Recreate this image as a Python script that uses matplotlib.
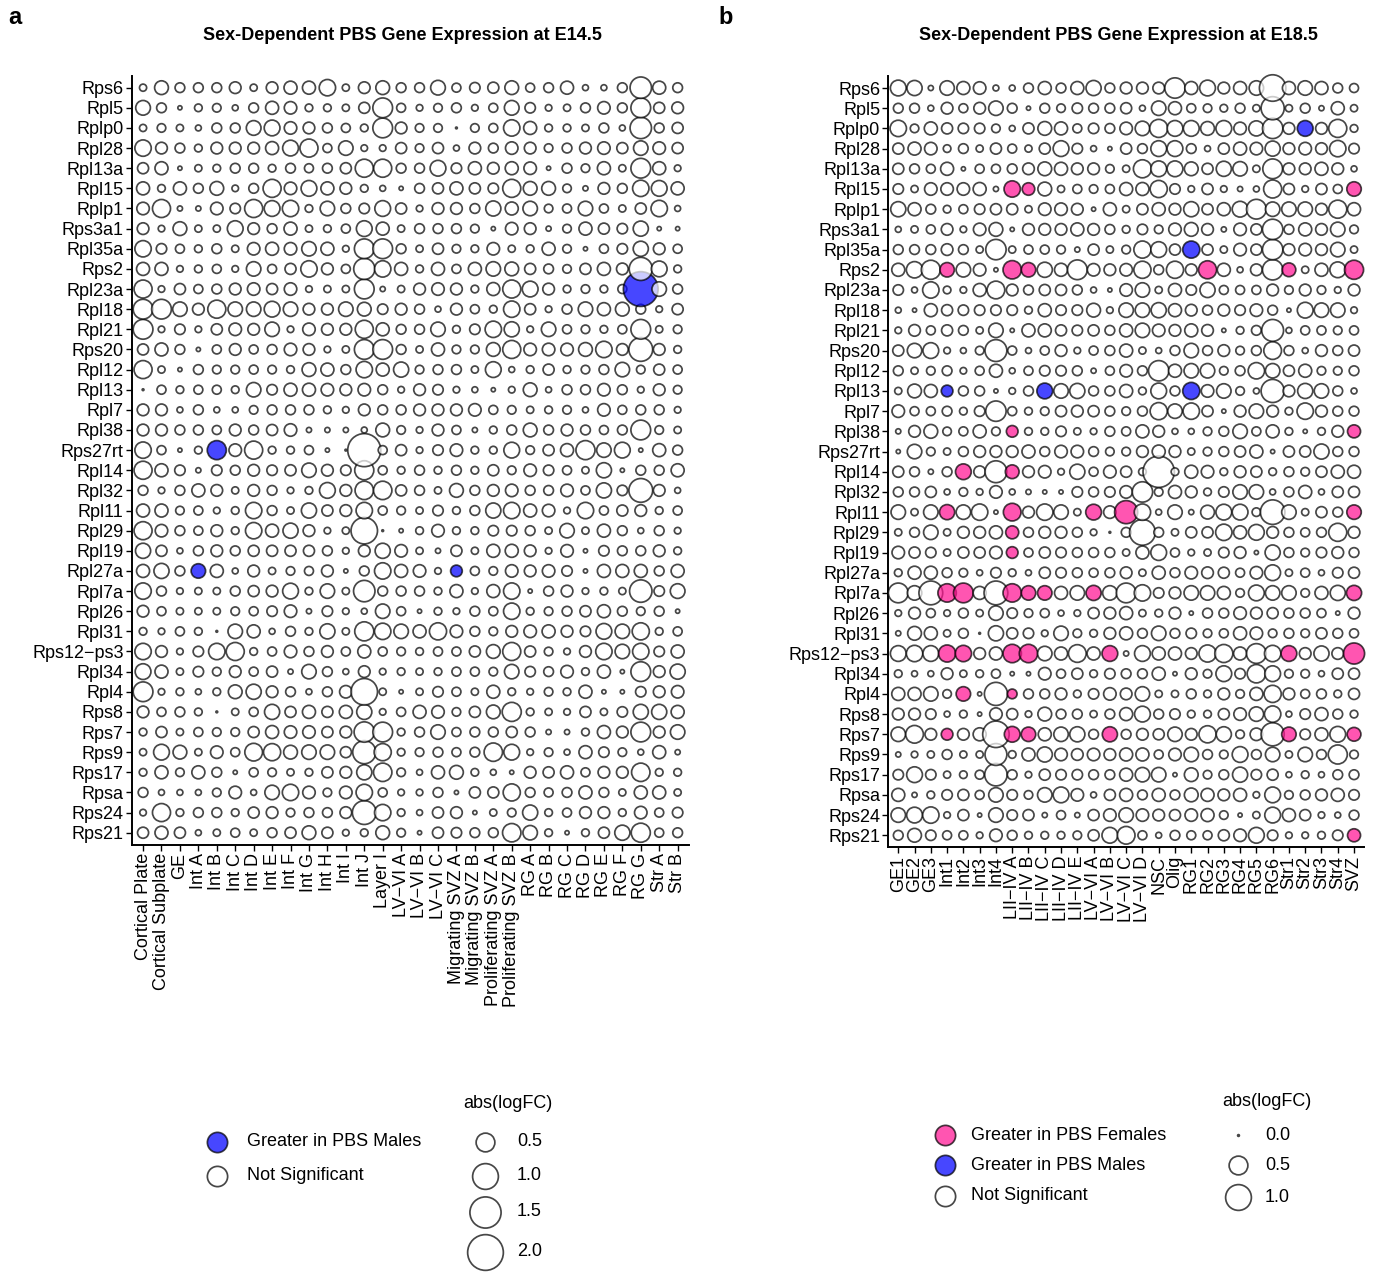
import numpy as np
import matplotlib
matplotlib.use("Agg")
import matplotlib.pyplot as plt

plt.rcParams['font.family'] = ['Liberation Sans', 'DejaVu Sans']

genes = ["Rps6", "Rpl5", "Rplp0", "Rpl28", "Rpl13a", "Rpl15", "Rplp1", "Rps3a1",
         "Rpl35a", "Rps2", "Rpl23a", "Rpl18", "Rpl21", "Rps20", "Rpl12", "Rpl13",
         "Rpl7", "Rpl38", "Rps27rt", "Rpl14", "Rpl32", "Rpl11", "Rpl29", "Rpl19",
         "Rpl27a", "Rpl7a", "Rpl26", "Rpl31", "Rps12\u2212ps3", "Rpl34", "Rpl4",
         "Rps8", "Rps7", "Rps9", "Rps17", "Rpsa", "Rps24", "Rps21"]

cells_e14 = ["Cortical Plate", "Cortical Subplate", "GE", "Int A", "Int B", "Int C",
             "Int D", "Int E", "Int F", "Int G", "Int H", "Int I", "Int J", "Layer I",
             "LV\u2212VI A", "LV\u2212VI B", "LV\u2212VI C", "Migrating SVZ A",
             "Migrating SVZ B", "Proliferating SVZ A", "Proliferating SVZ B",
             "RG A", "RG B", "RG C", "RG D", "RG E", "RG F", "RG G", "Str A", "Str B"]

cells_e18 = ["GE1", "GE2", "GE3", "Int1", "Int2", "Int3", "Int4", "LII\u2212IV A",
             "LII\u2212IV B", "LII\u2212IV C", "LII\u2212IV D", "LII\u2212IV E",
             "LV\u2212VI A", "LV\u2212VI B", "LV\u2212VI C", "LV\u2212VI D", "NSC", "Olig",
             "RG1", "RG2", "RG3", "RG4", "RG5", "RG6", "Str1", "Str2", "Str3", "Str4", "SVZ"]

# abs(logFC), one row per gene (same order as genes), one value per cell type
logfc_e14 = [
 [0.05,0.25,0.11,0.11,0.11,0.17,0.05,0.17,0.22,0.22,0.37,0.05,0.17,0.25,0.11,0.11,0.29,0.09,0.13,0.15,0.25,0.09,0.11,0.22,0.03,0.03,0.11,0.67,0.22,0.11],
 [0.29,0.11,0.01,0.06,0.08,0.03,0.11,0.22,0.2,0.06,0.06,0.05,0.15,0.56,0.09,0.04,0.08,0.11,0.04,0.09,0.29,0.13,0.04,0.05,0.11,0.2,0.11,0.56,0.15,0.17],
 [0.05,0.08,0.05,0.03,0.11,0.11,0.29,0.34,0.2,0.17,0.11,0.09,0.06,0.56,0.17,0.08,0.08,0.0,0.08,0.09,0.37,0.22,0.06,0.06,0.05,0.11,0.03,0.67,0.11,0.15],
 [0.37,0.17,0.11,0.06,0.17,0.17,0.17,0.22,0.34,0.46,0.09,0.28,0.04,0.04,0.15,0.08,0.15,0.03,0.17,0.11,0.2,0.17,0.08,0.11,0.17,0.2,0.15,0.28,0.2,0.15],
 [0.15,0.22,0.01,0.05,0.06,0.11,0.11,0.06,0.11,0.09,0.11,0.15,0.46,0.46,0.11,0.11,0.34,0.13,0.22,0.17,0.22,0.2,0.01,0.11,0.08,0.22,0.05,0.56,0.22,0.04],
 [0.22,0.06,0.22,0.11,0.25,0.04,0.11,0.46,0.2,0.34,0.22,0.17,0.06,0.03,0.01,0.11,0.15,0.22,0.15,0.13,0.46,0.25,0.25,0.08,0.02,0.17,0.11,0.37,0.34,0.22],
 [0.2,0.46,0.02,0.02,0.2,0.13,0.46,0.34,0.37,0.06,0.28,0.11,0.13,0.34,0.15,0.04,0.17,0.17,0.11,0.31,0.22,0.28,0.08,0.09,0.28,0.09,0.05,0.15,0.37,0.03],
 [0.17,0.04,0.25,0.05,0.05,0.34,0.17,0.11,0.22,0.05,0.06,0.09,0.34,0.22,0.05,0.11,0.11,0.11,0.08,0.01,0.2,0.17,0.02,0.08,0.22,0.15,0.13,0.31,0.01,0.01],
 [0.37,0.13,0.09,0.06,0.11,0.05,0.2,0.22,0.2,0.28,0.22,0.04,0.56,0.56,0.11,0.05,0.15,0.08,0.06,0.2,0.05,0.06,0.22,0.08,0.01,0.09,0.13,0.31,0.17,0.09],
 [0.22,0.22,0.04,0.06,0.09,0.04,0.28,0.09,0.15,0.37,0.17,0.09,0.65,0.37,0.22,0.06,0.22,0.09,0.22,0.28,0.25,0.15,0.11,0.08,0.15,0.22,0.17,0.79,0.34,0.06],
 [0.46,0.04,0.15,0.09,0.11,0.17,0.2,0.15,0.2,0.04,0.05,0.05,0.56,0.02,0.05,0.17,0.2,0.17,0.06,0.22,0.46,0.34,0.17,0.06,0.08,0.06,0.09,1.89,0.28,0.11],
 [0.56,0.56,0.28,0.17,0.46,0.28,0.28,0.34,0.28,0.17,0.17,0.28,0.25,0.13,0.17,0.11,0.03,0.17,0.09,0.06,0.37,0.15,0.04,0.11,0.28,0.22,0.25,0.11,0.04,0.15],
 [0.56,0.04,0.13,0.04,0.15,0.2,0.17,0.28,0.04,0.2,0.17,0.17,0.46,0.22,0.11,0.11,0.28,0.06,0.13,0.37,0.31,0.04,0.28,0.09,0.08,0.06,0.09,0.56,0.05,0.08],
 [0.15,0.22,0.11,0.01,0.09,0.17,0.09,0.11,0.2,0.17,0.04,0.05,0.56,0.56,0.11,0.05,0.22,0.08,0.08,0.25,0.46,0.2,0.2,0.2,0.25,0.37,0.17,0.84,0.17,0.06],
 [0.46,0.05,0.01,0.11,0.08,0.08,0.09,0.08,0.06,0.25,0.22,0.11,0.37,0.22,0.31,0.08,0.11,0.11,0.05,0.34,0.03,0.06,0.15,0.06,0.08,0.11,0.28,0.08,0.15,0.09],
 [0.0,0.09,0.06,0.09,0.09,0.06,0.28,0.13,0.22,0.22,0.2,0.17,0.2,0.11,0.04,0.17,0.13,0.04,0.03,0.01,0.04,0.25,0.03,0.11,0.11,0.2,0.11,0.04,0.17,0.08],
 [0.17,0.17,0.03,0.11,0.03,0.03,0.08,0.11,0.11,0.11,0.06,0.04,0.17,0.11,0.11,0.17,0.17,0.17,0.2,0.09,0.08,0.05,0.06,0.08,0.03,0.2,0.09,0.11,0.11,0.04],
 [0.17,0.17,0.11,0.11,0.09,0.17,0.11,0.15,0.2,0.02,0.02,0.02,0.03,0.25,0.08,0.04,0.17,0.09,0.02,0.06,0.11,0.25,0.11,0.17,0.11,0.09,0.11,0.56,0.08,0.05],
 [0.37,0.09,0.01,0.06,0.52,0.2,0.46,0.06,0.06,0.09,0.01,0.0,1.7,0.09,0.15,0.04,0.13,0.2,0.06,0.06,0.34,0.08,0.15,0.22,0.52,0.28,0.34,0.01,0.22,0.11],
 [0.46,0.22,0.13,0.02,0.13,0.11,0.17,0.13,0.15,0.28,0.17,0.13,0.52,0.09,0.06,0.11,0.06,0.11,0.06,0.15,0.08,0.2,0.13,0.09,0.05,0.31,0.01,0.11,0.11,0.22],
 [0.11,0.04,0.11,0.22,0.17,0.05,0.17,0.11,0.04,0.06,0.34,0.17,0.48,0.48,0.15,0.11,0.05,0.25,0.11,0.17,0.2,0.11,0.11,0.2,0.09,0.31,0.13,0.84,0.17,0.03],
 [0.22,0.22,0.08,0.09,0.04,0.06,0.37,0.11,0.05,0.31,0.15,0.17,0.37,0.09,0.08,0.05,0.13,0.06,0.11,0.31,0.37,0.22,0.2,0.04,0.37,0.09,0.15,0.17,0.06,0.09],
 [0.46,0.2,0.11,0.09,0.17,0.06,0.37,0.22,0.31,0.17,0.04,0.05,1.06,0.0,0.01,0.06,0.2,0.06,0.06,0.13,0.13,0.11,0.05,0.28,0.05,0.22,0.11,0.03,0.11,0.04],
 [0.31,0.15,0.03,0.11,0.17,0.11,0.15,0.15,0.15,0.15,0.11,0.04,0.17,0.31,0.2,0.05,0.02,0.15,0.05,0.22,0.22,0.17,0.04,0.2,0.01,0.13,0.11,0.11,0.17,0.06],
 [0.22,0.31,0.11,0.28,0.22,0.03,0.17,0.05,0.08,0.09,0.17,0.01,0.11,0.37,0.22,0.2,0.04,0.17,0.09,0.08,0.2,0.17,0.2,0.13,0.01,0.22,0.22,0.22,0.11,0.22],
 [0.37,0.11,0.04,0.05,0.05,0.11,0.15,0.17,0.34,0.06,0.28,0.05,0.67,0.11,0.11,0.11,0.06,0.22,0.04,0.22,0.37,0.01,0.11,0.17,0.04,0.06,0.05,0.74,0.13,0.29],
 [0.17,0.09,0.05,0.05,0.05,0.08,0.09,0.13,0.2,0.02,0.13,0.04,0.03,0.28,0.09,0.01,0.06,0.04,0.11,0.09,0.37,0.06,0.08,0.11,0.15,0.22,0.11,0.08,0.11,0.01],
 [0.06,0.04,0.09,0.06,0.0,0.28,0.22,0.03,0.11,0.06,0.31,0.05,0.52,0.37,0.28,0.22,0.41,0.2,0.11,0.08,0.17,0.2,0.22,0.17,0.13,0.34,0.28,0.41,0.06,0.09],
 [0.37,0.17,0.04,0.13,0.37,0.46,0.06,0.09,0.2,0.11,0.17,0.09,0.22,0.09,0.08,0.06,0.09,0.09,0.15,0.25,0.46,0.15,0.08,0.04,0.17,0.37,0.28,0.37,0.13,0.22],
 [0.34,0.22,0.05,0.13,0.08,0.17,0.09,0.15,0.02,0.28,0.11,0.03,0.17,0.04,0.06,0.05,0.06,0.09,0.09,0.08,0.28,0.13,0.11,0.2,0.06,0.22,0.01,0.56,0.17,0.31],
 [0.56,0.04,0.06,0.03,0.06,0.25,0.31,0.17,0.11,0.03,0.11,0.2,1.06,0.05,0.01,0.05,0.13,0.09,0.05,0.22,0.06,0.04,0.08,0.06,0.22,0.01,0.01,0.13,0.17,0.2],
 [0.17,0.09,0.11,0.06,0.0,0.05,0.09,0.31,0.15,0.22,0.15,0.22,0.31,0.04,0.09,0.22,0.2,0.08,0.15,0.25,0.52,0.06,0.05,0.04,0.15,0.05,0.13,0.31,0.31,0.22],
 [0.06,0.15,0.05,0.09,0.08,0.08,0.15,0.22,0.2,0.2,0.15,0.17,0.6,0.56,0.06,0.11,0.28,0.09,0.11,0.11,0.15,0.11,0.02,0.02,0.06,0.22,0.17,0.56,0.17,0.28],
 [0.05,0.34,0.25,0.05,0.2,0.09,0.44,0.41,0.25,0.28,0.28,0.15,0.79,0.41,0.06,0.08,0.11,0.09,0.11,0.48,0.34,0.04,0.08,0.03,0.22,0.13,0.08,0.03,0.22,0.02],
 [0.06,0.22,0.08,0.22,0.11,0.01,0.09,0.08,0.05,0.06,0.15,0.17,0.31,0.48,0.08,0.03,0.22,0.25,0.06,0.03,0.01,0.17,0.15,0.22,0.09,0.17,0.17,0.48,0.06,0.06],
 [0.11,0.03,0.03,0.03,0.08,0.2,0.03,0.28,0.37,0.2,0.08,0.2,0.37,0.09,0.04,0.04,0.11,0.01,0.15,0.15,0.41,0.11,0.09,0.11,0.22,0.11,0.05,0.22,0.22,0.05],
 [0.04,0.46,0.06,0.11,0.11,0.06,0.15,0.17,0.08,0.11,0.11,0.17,0.84,0.37,0.06,0.03,0.15,0.17,0.01,0.05,0.08,0.31,0.06,0.09,0.17,0.17,0.06,0.2,0.09,0.13],
 [0.15,0.22,0.15,0.03,0.05,0.09,0.05,0.11,0.15,0.25,0.15,0.04,0.06,0.25,0.08,0.01,0.15,0.13,0.11,0.11,0.48,0.28,0.06,0.01,0.06,0.15,0.31,0.52,0.09,0.11],
]

logfc_e18 = [
 [0.34,0.31,0.02,0.28,0.22,0.2,0.03,0.03,0.11,0.22,0.11,0.22,0.31,0.11,0.17,0.17,0.17,0.6,0.22,0.34,0.17,0.22,0.28,1.06,0.22,0.28,0.22,0.11,0.09],
 [0.11,0.11,0.03,0.17,0.09,0.17,0.28,0.11,0.01,0.11,0.08,0.13,0.11,0.11,0.15,0.03,0.28,0.22,0.09,0.08,0.06,0.11,0.05,0.79,0.05,0.11,0.02,0.22,0.05],
 [0.37,0.08,0.22,0.15,0.13,0.13,0.08,0.03,0.15,0.25,0.22,0.09,0.13,0.11,0.2,0.28,0.46,0.34,0.34,0.25,0.34,0.2,0.31,0.6,0.17,0.34,0.17,0.46,0.06],
 [0.15,0.22,0.2,0.06,0.11,0.05,0.15,0.09,0.05,0.15,0.34,0.13,0.03,0.01,0.15,0.11,0.34,0.34,0.11,0.03,0.15,0.22,0.2,0.31,0.17,0.2,0.17,0.37,0.13],
 [0.15,0.11,0.09,0.22,0.01,0.09,0.09,0.11,0.17,0.25,0.22,0.17,0.17,0.08,0.05,0.46,0.34,0.34,0.25,0.15,0.31,0.28,0.05,0.56,0.17,0.17,0.22,0.17,0.03],
 [0.13,0.05,0.2,0.2,0.2,0.22,0.02,0.37,0.2,0.25,0.05,0.09,0.08,0.09,0.22,0.22,0.41,0.13,0.04,0.15,0.04,0.02,0.03,0.46,0.15,0.04,0.15,0.09,0.28],
 [0.31,0.22,0.11,0.06,0.09,0.13,0.15,0.15,0.05,0.2,0.2,0.17,0.01,0.22,0.05,0.15,0.22,0.17,0.31,0.15,0.22,0.34,0.56,0.28,0.28,0.28,0.17,0.46,0.22],
 [0.03,0.05,0.09,0.17,0.04,0.2,0.25,0.01,0.17,0.17,0.17,0.22,0.17,0.11,0.06,0.13,0.08,0.2,0.25,0.17,0.02,0.2,0.15,0.6,0.11,0.22,0.17,0.28,0.08],
 [0.11,0.11,0.11,0.17,0.11,0.05,0.6,0.05,0.09,0.09,0.08,0.02,0.15,0.05,0.08,0.41,0.34,0.15,0.41,0.15,0.05,0.2,0.15,0.6,0.17,0.2,0.17,0.28,0.05],
 [0.22,0.37,0.52,0.28,0.28,0.2,0.01,0.48,0.28,0.31,0.22,0.56,0.2,0.17,0.2,0.41,0.11,0.41,0.17,0.46,0.22,0.03,0.17,0.6,0.25,0.05,0.22,0.34,0.52],
 [0.13,0.03,0.37,0.06,0.04,0.22,0.44,0.17,0.11,0.15,0.15,0.11,0.03,0.01,0.2,0.28,0.05,0.22,0.13,0.31,0.09,0.09,0.09,0.17,0.08,0.17,0.08,0.04,0.17],
 [0.03,0.01,0.22,0.15,0.13,0.13,0.13,0.13,0.06,0.22,0.13,0.13,0.25,0.04,0.28,0.28,0.31,0.22,0.17,0.11,0.17,0.13,0.2,0.11,0.01,0.34,0.28,0.28,0.04],
 [0.04,0.17,0.09,0.15,0.11,0.05,0.28,0.01,0.22,0.22,0.15,0.13,0.15,0.11,0.22,0.28,0.2,0.17,0.22,0.17,0.01,0.06,0.11,0.7,0.03,0.09,0.09,0.08,0.09],
 [0.15,0.28,0.34,0.04,0.03,0.08,0.7,0.09,0.03,0.09,0.17,0.04,0.09,0.11,0.22,0.05,0.03,0.11,0.28,0.11,0.17,0.08,0.11,0.44,0.11,0.03,0.17,0.11,0.15],
 [0.11,0.05,0.08,0.11,0.04,0.09,0.22,0.03,0.09,0.13,0.13,0.11,0.02,0.09,0.2,0.11,0.6,0.22,0.28,0.28,0.08,0.11,0.37,0.28,0.15,0.22,0.08,0.08,0.11],
 [0.05,0.25,0.22,0.17,0.11,0.11,0.01,0.04,0.11,0.34,0.28,0.31,0.11,0.11,0.22,0.06,0.34,0.11,0.41,0.2,0.28,0.08,0.03,0.79,0.17,0.31,0.28,0.11,0.03],
 [0.2,0.09,0.09,0.11,0.06,0.13,0.6,0.09,0.06,0.08,0.15,0.17,0.15,0.11,0.08,0.11,0.41,0.28,0.37,0.15,0.01,0.17,0.28,0.17,0.06,0.37,0.17,0.11,0.11],
 [0.02,0.17,0.25,0.08,0.09,0.22,0.08,0.17,0.06,0.06,0.13,0.05,0.04,0.11,0.09,0.22,0.17,0.03,0.03,0.08,0.11,0.28,0.09,0.22,0.06,0.01,0.06,0.17,0.22],
 [0.01,0.28,0.08,0.05,0.11,0.17,0.17,0.17,0.22,0.11,0.2,0.2,0.11,0.08,0.08,0.17,0.22,0.17,0.05,0.08,0.11,0.15,0.22,0.01,0.15,0.15,0.31,0.11,0.11],
 [0.15,0.11,0.02,0.11,0.34,0.17,0.7,0.25,0.17,0.2,0.04,0.31,0.09,0.2,0.15,0.06,1.52,0.06,0.22,0.2,0.06,0.17,0.15,0.06,0.11,0.08,0.15,0.22,0.22],
 [0.11,0.11,0.15,0.03,0.08,0.04,0.2,0.03,0.02,0.01,0.01,0.13,0.11,0.13,0.2,0.6,0.08,0.22,0.17,0.06,0.13,0.28,0.28,0.03,0.11,0.22,0.03,0.15,0.15],
 [0.28,0.05,0.28,0.31,0.28,0.37,0.01,0.44,0.17,0.37,0.28,0.05,0.34,0.2,0.79,0.37,0.03,0.28,0.02,0.25,0.34,0.34,0.08,0.9,0.28,0.05,0.15,0.11,0.28],
 [0.05,0.11,0.28,0.05,0.17,0.17,0.22,0.22,0.11,0.17,0.17,0.11,0.04,0.0,0.11,1.0,0.11,0.05,0.15,0.15,0.37,0.22,0.34,0.17,0.11,0.09,0.11,0.46,0.17],
 [0.2,0.15,0.13,0.05,0.15,0.15,0.2,0.17,0.09,0.15,0.13,0.11,0.11,0.11,0.05,0.22,0.34,0.09,0.04,0.05,0.13,0.17,0.01,0.31,0.11,0.08,0.13,0.17,0.11],
 [0.06,0.22,0.22,0.11,0.08,0.03,0.13,0.06,0.03,0.15,0.13,0.11,0.09,0.11,0.17,0.05,0.22,0.11,0.2,0.17,0.15,0.09,0.2,0.34,0.05,0.09,0.03,0.13,0.15],
 [0.56,0.28,0.84,0.48,0.56,0.22,0.84,0.48,0.28,0.28,0.22,0.28,0.31,0.28,0.56,0.37,0.13,0.17,0.28,0.28,0.22,0.08,0.34,0.28,0.28,0.08,0.22,0.31,0.31],
 [0.04,0.17,0.09,0.04,0.11,0.05,0.28,0.13,0.08,0.09,0.03,0.04,0.15,0.17,0.22,0.05,0.06,0.17,0.01,0.11,0.11,0.2,0.17,0.15,0.11,0.11,0.09,0.01,0.17],
 [0.02,0.25,0.22,0.05,0.11,0.0,0.31,0.15,0.13,0.04,0.28,0.08,0.06,0.17,0.22,0.11,0.28,0.11,0.13,0.08,0.09,0.22,0.2,0.08,0.11,0.08,0.15,0.11,0.09],
 [0.34,0.37,0.34,0.41,0.37,0.17,0.22,0.48,0.48,0.28,0.22,0.44,0.22,0.34,0.02,0.34,0.22,0.22,0.17,0.41,0.46,0.22,0.56,0.37,0.34,0.17,0.31,0.17,0.65],
 [0.06,0.03,0.03,0.17,0.05,0.06,0.09,0.01,0.01,0.2,0.09,0.15,0.06,0.13,0.11,0.11,0.22,0.01,0.17,0.08,0.34,0.13,0.48,0.34,0.08,0.08,0.03,0.15,0.15],
 [0.22,0.22,0.28,0.08,0.28,0.01,0.79,0.11,0.11,0.11,0.17,0.06,0.13,0.2,0.17,0.28,0.05,0.05,0.11,0.06,0.17,0.08,0.22,0.41,0.17,0.09,0.11,0.06,0.15],
 [0.17,0.17,0.13,0.03,0.06,0.01,0.2,0.15,0.04,0.25,0.11,0.11,0.05,0.11,0.22,0.34,0.11,0.13,0.06,0.06,0.15,0.2,0.28,0.37,0.03,0.13,0.22,0.11,0.06],
 [0.28,0.44,0.17,0.17,0.17,0.22,1.06,0.34,0.28,0.22,0.28,0.31,0.11,0.31,0.11,0.17,0.15,0.28,0.17,0.41,0.31,0.08,0.2,0.79,0.28,0.13,0.22,0.34,0.25],
 [0.02,0.04,0.05,0.11,0.05,0.05,0.7,0.06,0.22,0.31,0.2,0.17,0.2,0.17,0.22,0.22,0.09,0.2,0.28,0.11,0.08,0.34,0.11,0.28,0.05,0.28,0.11,0.52,0.08],
 [0.13,0.34,0.13,0.05,0.06,0.09,0.74,0.11,0.04,0.15,0.13,0.13,0.11,0.11,0.22,0.28,0.28,0.01,0.25,0.08,0.11,0.31,0.13,0.15,0.03,0.06,0.03,0.11,0.11],
 [0.22,0.02,0.06,0.13,0.15,0.09,0.28,0.13,0.08,0.28,0.34,0.2,0.03,0.15,0.22,0.11,0.22,0.11,0.25,0.22,0.17,0.22,0.04,0.34,0.08,0.11,0.17,0.22,0.13],
 [0.28,0.34,0.37,0.04,0.15,0.01,0.28,0.13,0.15,0.02,0.09,0.02,0.15,0.2,0.28,0.2,0.17,0.15,0.2,0.22,0.08,0.01,0.05,0.34,0.22,0.15,0.04,0.03,0.11],
 [0.11,0.25,0.13,0.09,0.09,0.04,0.2,0.11,0.06,0.06,0.06,0.08,0.15,0.34,0.44,0.09,0.03,0.11,0.09,0.09,0.15,0.2,0.34,0.13,0.04,0.04,0.06,0.13,0.22],
]

# significant cells: (gene, cell type)
males_e14 = [("Rpl23a", "RG G"), ("Rps27rt", "Int B"), ("Rpl27a", "Int A"),
             ("Rpl27a", "Migrating SVZ A")]
females_e18 = [("Rpl15", "LII\u2212IV A"), ("Rpl15", "LII\u2212IV B"), ("Rpl15", "SVZ"),
               ("Rps2", "Int1"), ("Rps2", "LII\u2212IV A"), ("Rps2", "LII\u2212IV B"),
               ("Rps2", "RG2"), ("Rps2", "Str1"), ("Rps2", "SVZ"),
               ("Rpl38", "LII\u2212IV A"), ("Rpl38", "SVZ"),
               ("Rpl14", "Int2"), ("Rpl14", "LII\u2212IV A"),
               ("Rpl11", "Int1"), ("Rpl11", "LII\u2212IV A"), ("Rpl11", "LV\u2212VI A"),
               ("Rpl11", "LV\u2212VI C"), ("Rpl11", "SVZ"),
               ("Rpl29", "LII\u2212IV A"), ("Rpl19", "LII\u2212IV A"),
               ("Rpl7a", "Int1"), ("Rpl7a", "Int2"), ("Rpl7a", "LII\u2212IV A"),
               ("Rpl7a", "LII\u2212IV B"), ("Rpl7a", "LII\u2212IV C"), ("Rpl7a", "LV\u2212VI A"),
               ("Rpl7a", "SVZ"),
               ("Rps12\u2212ps3", "Int1"), ("Rps12\u2212ps3", "Int2"), ("Rps12\u2212ps3", "LII\u2212IV A"),
               ("Rps12\u2212ps3", "LII\u2212IV B"), ("Rps12\u2212ps3", "LV\u2212VI B"),
               ("Rps12\u2212ps3", "Str1"), ("Rps12\u2212ps3", "SVZ"),
               ("Rpl4", "Int2"), ("Rpl4", "LII\u2212IV A"),
               ("Rps7", "Int1"), ("Rps7", "LII\u2212IV A"), ("Rps7", "LII\u2212IV B"),
               ("Rps7", "LV\u2212VI B"), ("Rps7", "Str1"), ("Rps7", "SVZ"),
               ("Rps21", "SVZ")]
males_e18 = [("Rplp0", "Str2"), ("Rpl35a", "RG1"), ("Rpl13", "Int1"),
             ("Rpl13", "LII\u2212IV C"), ("Rpl13", "RG1")]

size_breaks_e14 = [0.5, 1.0, 1.5, 2.0]
size_breaks_e18 = [0.0, 0.5, 1.0]

COL_F = "#FF1493"
COL_M = "#0000FF"
COL_NS = "#FFFFFF"
ALPHA = 0.72
DPI = 100
W, H = 1381, 1272
LW = 1.25  # pt


def marker_s(v):
    d_px = 3.5 + 24.0 * np.sqrt(np.asarray(v, dtype=float))
    d_pt = d_px * 72.0 / DPI - LW
    d_pt = np.maximum(d_pt, 0.9)
    return d_pt ** 2


fig = plt.figure(figsize=(W / DPI, H / DPI), dpi=DPI)

# overlay in pixel coordinates for titles / legends / panel letters
ov = fig.add_axes([0, 0, 1, 1], zorder=-1)
ov.set_xlim(0, W)
ov.set_ylim(H, 0)
ov.axis("off")


def panel(rect, cells, vals, fem, mal):
    ax = fig.add_axes(rect)
    vals = np.array(vals)
    fset = set(fem)
    mset = set(mal)
    xs, ys, ss, cs = [], [], [], []
    for r in range(len(genes) - 1, -1, -1):  # bottom row first
        for c in range(len(cells)):
            key = (genes[r], cells[c])
            col = COL_F if key in fset else (COL_M if key in mset else COL_NS)
            xs.append(c)
            ys.append(r)
            ss.append(marker_s(vals[r, c]))
            cs.append(col)
    ax.scatter(xs, ys, s=ss, c=cs, edgecolors="black", linewidths=LW,
               alpha=ALPHA, zorder=3, clip_on=False)
    ax.set_xlim(-0.6, len(cells) - 0.4)
    ax.set_ylim(len(genes) - 0.4, -0.6)
    ax.set_xticks(range(len(cells)))
    ax.set_xticklabels(cells, rotation=90, ha="center", va="top", fontsize=13)
    ax.set_yticks(range(len(genes)))
    ax.set_yticklabels(genes, fontsize=13)
    for sp in ["top", "right"]:
        ax.spines[sp].set_visible(False)
    for sp in ["left", "bottom"]:
        ax.spines[sp].set_linewidth(1.4)
    ax.tick_params(length=4, width=1.0, pad=2, colors="black")
    return ax


axa = panel([132 / W, 1 - 844.8 / H, (688.7 - 132) / W, (844.8 - 75.6) / H],
            cells_e14, logfc_e14, [], males_e14)
axb = panel([888.5 / W, 1 - 847.4 / H, (1363.8 - 888.5) / W, (847.4 - 75.9) / H],
            cells_e18, logfc_e18, females_e18, males_e18)

ov.text(402, 35, "Sex-Dependent PBS Gene Expression at E14.5", fontsize=13,
        fontweight="bold", ha="center", va="center")
ov.text(1118, 35, "Sex-Dependent PBS Gene Expression at E18.5", fontsize=13,
        fontweight="bold", ha="center", va="center")
ov.text(8, 18, "a", fontsize=17, fontweight="bold", va="center", ha="left")
ov.text(718, 17, "b", fontsize=17, fontweight="bold", va="center", ha="left")

key_s = ((22 * 72.0 / DPI) - LW) ** 2

# panel a legends
for y, col, lab in [(1142, COL_M, "Greater in PBS Males"), (1176, COL_NS, "Not Significant")]:
    ov.scatter([217], [y], s=key_s, c=[col], edgecolors="black", linewidths=LW, alpha=ALPHA)
    ov.text(247, y, lab, fontsize=13, va="center", ha="left")
ov.text(463, 1104, "abs(logFC)", fontsize=13, va="center", ha="left")
for y, v in zip([1142, 1176, 1212, 1252], size_breaks_e14):
    ov.scatter([485], [y], s=marker_s(v), c=[COL_NS], edgecolors="black", linewidths=LW, alpha=ALPHA)
    ov.text(517, y, f"{v:.1f}", fontsize=13, va="center", ha="left")

# panel b legends
for y, col, lab in [(1135, COL_F, "Greater in PBS Females"), (1165, COL_M, "Greater in PBS Males"),
                    (1196, COL_NS, "Not Significant")]:
    ov.scatter([945], [y], s=key_s, c=[col], edgecolors="black", linewidths=LW, alpha=ALPHA)
    ov.text(971, y, lab, fontsize=13, va="center", ha="left")
ov.text(1222, 1102, "abs(logFC)", fontsize=13, va="center", ha="left")
for y, v in zip([1135, 1165, 1197], size_breaks_e18):
    ov.scatter([1238], [y], s=marker_s(v), c=[COL_NS], edgecolors="black", linewidths=LW, alpha=ALPHA)
    ov.text(1265, y, f"{v:.1f}", fontsize=13, va="center", ha="left")

fig.savefig("out.png", dpi=DPI)
